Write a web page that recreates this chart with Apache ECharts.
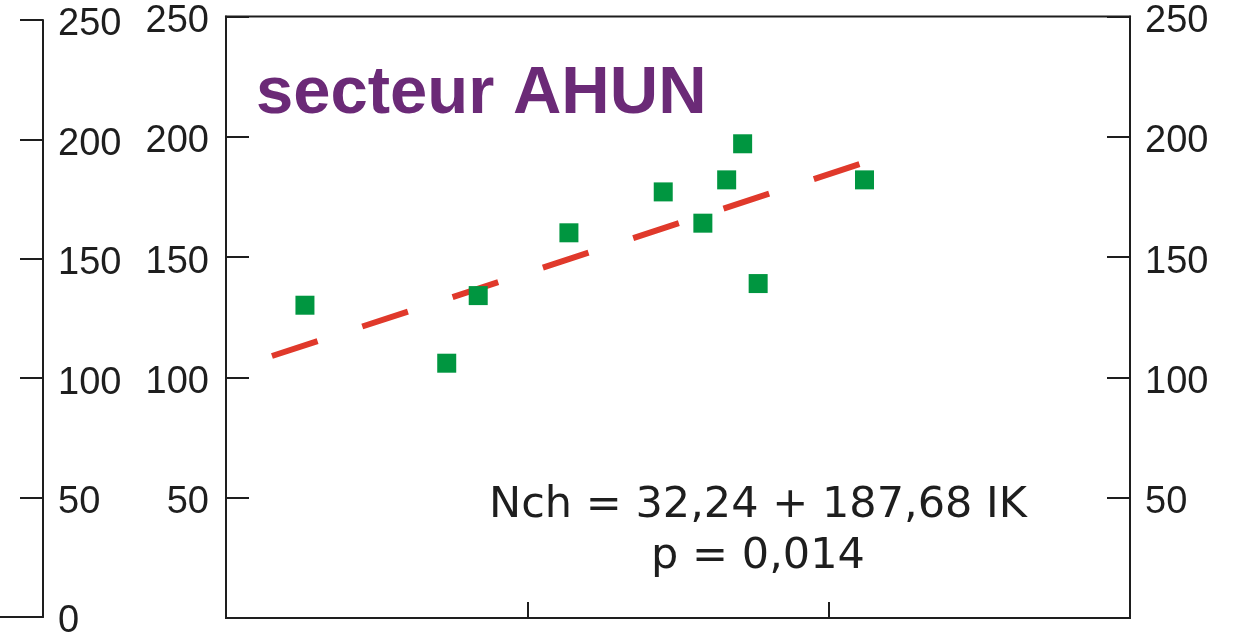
<!DOCTYPE html>
<html>
<head>
<meta charset="utf-8">
<script src="https://cdn.jsdelivr.net/npm/echarts@6/dist/echarts.min.js"></script>
<style>
html,body{margin:0;padding:0;background:#fff;}
#chart{width:1242px;height:641px;}
</style>
</head>
<body>
<div id="chart"></div>
<script>
// Data: IK (x) vs Nch (y)
const ikValues  = [0.4524, 0.5465, 0.5674, 0.6276, 0.6902, 0.7165, 0.7323, 0.7429, 0.7532, 0.8238];
const nchValues = [130.0, 105.9, 134.0, 160.1, 177.1, 164.1, 182.1, 197.1, 139.0, 182.1];
// Regression line endpoints as drawn
const fitIK  = [0.4305, 0.8253];
const fitNch = [108.9, 189.6];
const yTicks = [0, 50, 100, 150, 200, 250];
const titleText = 'secteur AHUN';
const eqLine1 = 'Nch = 32,24 + 187,68 IK';
const eqLine2 = 'p = 0,014';

const ink = '#1e1e1e';
const labelFont = 'Liberation Sans';

const chart = echarts.init(document.getElementById('chart'), null, {renderer: 'canvas'});

const yLabel = {
  show: true, color: ink, fontFamily: labelFont, fontSize: 38,
  verticalAlign: 'top', lineHeight: 10
};

chart.setOption({
  animation: false,
  backgroundColor: '#fff',
  grid: [
    {left: 226, right: 112, top: 16.5, bottom: 23, show: true, borderColor: ink, borderWidth: 2, backgroundColor: 'transparent'},
    {left: 0, width: 43, top: 20, bottom: 20, show: false}
  ],
  xAxis: [
    {
      gridIndex: 0, type: 'value', min: 0.4, max: 1.0, interval: 0.2,
      axisLine: {show: true, onZero: false, lineStyle: {color: ink, width: 2}},
      axisTick: {show: true, inside: true, length: 16, lineStyle: {color: ink, width: 2}},
      axisLabel: {show: false}, splitLine: {show: false}
    },
    {
      gridIndex: 1, type: 'value', min: 0, max: 1,
      axisLine: {show: true, onZero: false, lineStyle: {color: ink, width: 2}},
      axisTick: {show: false}, axisLabel: {show: false}, splitLine: {show: false}
    }
  ],
  yAxis: [
    {
      gridIndex: 0, type: 'value', position: 'left', min: yTicks[0], max: yTicks[yTicks.length - 1], interval: 50,
      axisLine: {show: true, onZero: false, lineStyle: {color: ink, width: 2}},
      axisTick: {show: true, inside: true, length: 23, lineStyle: {color: ink, width: 2}},
      axisLabel: Object.assign({}, yLabel, {margin: 17, showMinLabel: false, align: 'right'}),
      splitLine: {show: false}
    },
    {
      gridIndex: 0, type: 'value', position: 'right', min: yTicks[0], max: yTicks[yTicks.length - 1], interval: 50,
      axisLine: {show: true, onZero: false, lineStyle: {color: ink, width: 2}},
      axisTick: {show: true, inside: true, length: 23, lineStyle: {color: ink, width: 2}},
      axisLabel: Object.assign({}, yLabel, {margin: 15, showMinLabel: false, align: 'left'}),
      splitLine: {show: false}
    },
    {
      gridIndex: 1, type: 'value', position: 'right', min: yTicks[0], max: yTicks[yTicks.length - 1], interval: 50,
      axisLine: {show: true, onZero: false, lineStyle: {color: ink, width: 2}},
      axisTick: {show: true, inside: true, length: 23, lineStyle: {color: ink, width: 2}},
      axisLabel: Object.assign({}, yLabel, {margin: 15, align: 'left'}),
      splitLine: {show: false}
    }
  ],
  series: [
    {
      type: 'line', xAxisIndex: 0, yAxisIndex: 0,
      data: fitIK.map((x, i) => [x, fitNch[i]]),
      symbol: 'none', silent: true, z: 2,
      lineStyle: {color: '#e0392b', width: 6, type: [48, 47], cap: 'butt'}
    },
    {
      type: 'scatter', xAxisIndex: 0, yAxisIndex: 0,
      data: ikValues.map((x, i) => [x, nchValues[i]]),
      symbol: 'rect', symbolSize: 19, z: 3,
      itemStyle: {color: '#009640', opacity: 1}
    }
  ],
  graphic: [
    {type: 'text', x: 256, y: 95, z: 10,
     style: {text: titleText, fill: '#6b2a77', font: 'bold 67px "Liberation Sans"', align: 'left', verticalAlign: 'middle'}},
    {type: 'text', x: 758, y: 506, z: 10,
     style: {text: eqLine1, fill: ink, font: '43px "DejaVu Sans"', align: 'center', verticalAlign: 'middle'}},
    {type: 'text', x: 758, y: 557, z: 10,
     style: {text: eqLine2, fill: ink, font: '43px "DejaVu Sans"', align: 'center', verticalAlign: 'middle'}}
  ]
});
</script>
</body>
</html>
